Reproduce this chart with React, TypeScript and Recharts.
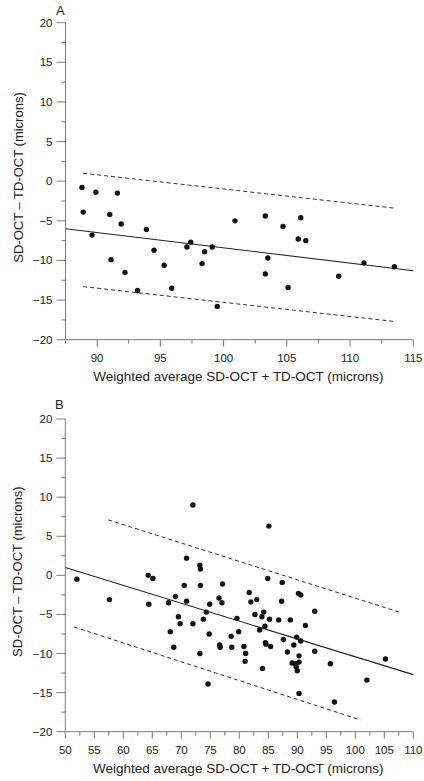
import React from 'react';
import { ScatterChart, Scatter, XAxis, YAxis, ReferenceLine } from 'recharts';

// Panel A data
const xA = [88.8, 88.9, 89.6, 89.9, 91.0, 91.1, 91.6, 91.9, 92.2, 93.2, 93.9, 94.5, 95.3, 95.9, 97.1, 97.4, 98.3, 98.5, 99.1, 99.5, 100.9, 103.3, 103.3, 103.5, 104.7, 105.1, 105.9, 106.1, 106.5, 109.1, 111.1, 113.5];
const yA = [-0.8, -3.9, -6.8, -1.4, -4.2, -9.9, -1.5, -5.4, -11.5, -13.8, -6.1, -8.7, -10.6, -13.5, -8.3, -7.7, -10.4, -8.9, -8.3, -15.8, -5.0, -4.4, -11.7, -9.7, -5.7, -13.4, -7.3, -4.6, -7.5, -12.0, -10.3, -10.8];

// Panel B data
const xB = [52.0, 57.6, 64.3, 65.1, 64.4, 67.8, 68.1, 68.7, 69.0, 69.5, 69.8, 70.5, 70.9, 72.0, 73.2, 73.3, 73.3, 73.2, 73.8, 74.3, 74.6, 74.8, 74.9, 76.5, 76.6, 76.7, 77.0, 77.1, 78.6, 78.7, 79.6, 79.9, 80.8, 81.1, 81.0, 81.7, 82.0, 82.7, 83.0, 83.5, 83.9, 84.2, 84.0, 84.4, 84.5, 84.6, 84.9, 85.2, 85.4, 86.8, 87.4, 87.3, 87.6, 88.3, 88.8, 89.1, 89.4, 89.7, 89.9, 89.8, 90.0, 90.2, 90.6, 90.3, 90.3, 90.3, 90.6, 91.4, 93.0, 93.0, 95.7, 96.4, 102.0, 105.2, 72.0, 85.1, 70.9];
const yB = [-0.5, -3.1, 0.0, -0.4, -3.7, -3.5, -7.2, -9.2, -2.7, -5.3, -6.2, -1.3, -3.3, -6.2, 1.3, 0.8, -1.3, -10.0, -5.6, -4.7, -13.9, -7.5, -3.7, -2.9, -8.9, -9.2, -3.5, -1.1, -7.8, -9.2, -5.5, -7.2, -9.1, -10.0, -11.0, -2.2, -3.4, -5.0, -3.1, -7.0, -5.3, -4.7, -11.9, -6.5, -8.6, -8.8, -0.4, -5.6, -9.1, -5.7, -0.9, -3.3, -8.2, -9.8, -5.7, -11.2, -8.9, -11.3, -7.9, -11.7, -12.2, -2.3, -2.5, -10.3, -11.1, -15.1, -8.4, -6.4, -4.6, -9.7, -11.3, -16.2, -13.4, -10.7, 9.0, 6.3, 2.2];

// Regression line and limits of agreement (endpoints)
const meanLineA = [{ x: 87.5, y: -6.0 }, { x: 115, y: -11.3 }];
const upperLineA = [{ x: 88.9, y: 1.0 }, { x: 113.5, y: -3.4 }];
const lowerLineA = [{ x: 88.9, y: -13.3 }, { x: 113.5, y: -17.7 }];
const meanLineB = [{ x: 50, y: 1.0 }, { x: 110, y: -12.7 }];
const upperLineB = [{ x: 57.4, y: 7.1 }, { x: 108, y: -4.8 }];
const lowerLineB = [{ x: 51.5, y: -6.6 }, { x: 100.9, y: -18.5 }];

// Ticks
const yTicks = [-20, -17.5, -15, -12.5, -10, -7.5, -5, -2.5, 0, 2.5, 5, 7.5, 10, 12.5, 15, 17.5, 20];
const xTicksA = [87.5, 90, 92.5, 95, 97.5, 100, 102.5, 105, 107.5, 110, 112.5, 115];
const xTicksB = [50, 52.5, 55, 57.5, 60, 62.5, 65, 67.5, 70, 72.5, 75, 77.5, 80, 82.5, 85, 87.5, 90, 92.5, 95, 97.5, 100, 102.5, 105, 107.5, 110];

const xLabel = 'Weighted average SD-OCT + TD-OCT (microns)';
const yLabel = 'SD-OCT \u2013 TD-OCT (microns)';

const dataA = xA.map((x, i) => ({ x, y: yA[i] }));
const dataB = xB.map((x, i) => ({ x, y: yB[i] }));

const FONT = '"Liberation Sans", Arial, Helvetica, sans-serif';
const AXIS = '#7a7a7a';
const TEXT = '#222';

const fmt = (v: number) => (v < 0 ? '\u2212' + Math.abs(v) : String(v));

const YTick = (p: any) => {
  const { x, y, payload } = p;
  const v = payload.value;
  const major = v % 5 === 0;
  return (
    <g>
      <line x1={x - (major ? 9 : 4)} x2={x} y1={y} y2={y} stroke={AXIS} strokeWidth={1} />
      {major && (
        <text x={x - 13} y={y} textAnchor="end" dominantBaseline="central" fontSize={11.5} fontFamily={FONT} fill={TEXT}>
          {fmt(v)}
        </text>
      )}
    </g>
  );
};

const XTick = (p: any) => {
  const { x, y, payload } = p;
  const v = payload.value;
  const major = v % 5 === 0;
  return (
    <g>
      <line x1={x} x2={x} y1={y} y2={y + (major ? 7 : 4)} stroke={AXIS} strokeWidth={1} />
      {major && (
        <text x={x} y={y + 18} textAnchor="middle" dominantBaseline="central" fontSize={11.5} fontFamily={FONT} fill={TEXT}>
          {fmt(v)}
        </text>
      )}
    </g>
  );
};

const Dot = (p: any) => <circle cx={p.cx} cy={p.cy} r={2.7} fill="#111" />;

const makeXLabel = (dy: number) => (props: any) => {
  const vb = props.viewBox || {};
  return (
    <text x={vb.x + vb.width / 2 - 1} y={vb.y + dy} textAnchor="middle" dominantBaseline="central" fontSize={13.5} fontFamily={FONT} fill={TEXT}>
      {xLabel}
    </text>
  );
};

const makeYLabel = (dy: number) => (props: any) => {
  const vb = props.viewBox || {};
  const cx = vb.x + 18;
  const cy = vb.y + vb.height / 2 + dy;
  return (
    <text x={cx} y={cy} textAnchor="middle" dominantBaseline="central" fontSize={13} fontFamily={FONT} fill={TEXT} transform={`rotate(-90, ${cx}, ${cy})`}>
      {yLabel}
    </text>
  );
};

type PanelProps = {
  top: number;
  height: number;
  marginTop: number;
  xAxisHeight: number;
  yAxisWidth: number;
  data: { x: number; y: number }[];
  xDomain: [number, number];
  xTicks: number[];
  mean: { x: number; y: number }[];
  upper: { x: number; y: number }[];
  lower: { x: number; y: number }[];
  xLabelDy: number;
  yLabelDy: number;
};

const Panel = (p: PanelProps) => (
  <div style={{ position: 'absolute', left: 0, top: p.top }}>
    <ScatterChart width={424} height={p.height} margin={{ top: p.marginTop, right: 10.7, bottom: 0, left: 0 }}>
      <XAxis
        type="number"
        dataKey="x"
        domain={p.xDomain}
        ticks={p.xTicks}
        interval={0}
        allowDataOverflow
        height={p.xAxisHeight}
        tickLine={false}
        tickSize={0}
        tickMargin={0}
        axisLine={{ stroke: AXIS, strokeWidth: 1 }}
        tick={(t: any) => <XTick {...t} />}
        label={makeXLabel(p.xLabelDy)}
      />
      <YAxis
        type="number"
        dataKey="y"
        domain={[-20, 20]}
        ticks={yTicks}
        interval={0}
        allowDataOverflow
        width={p.yAxisWidth}
        tickLine={false}
        tickSize={0}
        tickMargin={0}
        axisLine={{ stroke: AXIS, strokeWidth: 1 }}
        tick={(t: any) => <YTick {...t} />}
        label={makeYLabel(p.yLabelDy)}
      />
      <ReferenceLine segment={p.upper} stroke="#333" strokeWidth={1} strokeDasharray="4 3" ifOverflow="visible" />
      <ReferenceLine segment={p.lower} stroke="#333" strokeWidth={1} strokeDasharray="4 3" ifOverflow="visible" />
      <ReferenceLine segment={p.mean} stroke="#222" strokeWidth={1.1} ifOverflow="visible" />
      <Scatter data={p.data} isAnimationActive={false} shape={Dot} />
    </ScatterChart>
  </div>
);

export default function App() {
  return (
    <div style={{ position: 'absolute', left: 0, top: 0, width: 424, height: 781, background: '#fff', fontFamily: FONT }}>
      <Panel
        top={0}
        height={390}
        marginTop={22.7}
        xAxisHeight={50.3}
        yAxisWidth={65.5}
        data={dataA}
        xDomain={[87.5, 115]}
        xTicks={xTicksA}
        mean={meanLineA}
        upper={upperLineA}
        lower={lowerLineA}
        xLabelDy={36.8}
        yLabelDy={-3.7}
      />
      <Panel
        top={390}
        height={391}
        marginTop={29}
        xAxisHeight={49.3}
        yAxisWidth={65.3}
        data={dataB}
        xDomain={[50, 110]}
        xTicks={xTicksB}
        mean={meanLineB}
        upper={upperLineB}
        lower={lowerLineB}
        xLabelDy={36.3}
        yLabelDy={-3.7}
      />
      <div style={{ position: 'absolute', left: 56, top: 3, fontSize: 13, color: TEXT, lineHeight: '16px' }}>A</div>
      <div style={{ position: 'absolute', left: 55, top: 397, fontSize: 13, color: TEXT, lineHeight: '16px' }}>B</div>
    </div>
  );
}
